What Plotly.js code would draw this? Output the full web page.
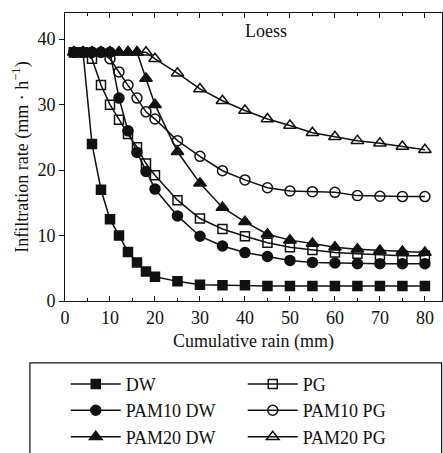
<!DOCTYPE html>
<html>
<head>
<meta charset="utf-8">
<script src="https://cdn.plot.ly/plotly-3.0.1.min.js"></script>
<style>html,body{margin:0;padding:0;background:#fff;}#chart{width:443px;height:453px;}</style>
</head>
<body>
<div id="chart"></div>
<script>
const rain = [2,4,6,8,10,12,14,16,18,20,25,30,35,40,45,50,55,60,65,70,75,80];
const dw = [38,38,24,17,12.5,10,7.5,5.9,4.5,3.7,3.0,2.5,2.4,2.4,2.3,2.3,2.3,2.3,2.3,2.3,2.3,2.3];
const pg = [38,38,37,33,30,27.7,25.5,23.5,21,19.2,15.4,12.6,11,9.9,8.9,8.2,7.8,7.4,7.2,7.0,6.9,6.9];
const pam10dw = [38,38,38,38,38,31,26,22.7,19.8,17.1,13,9.9,8.4,7.4,6.8,6.2,5.9,5.8,5.7,5.7,5.7,5.7];
const pam10pg = [38,38,38,38,37,35,33,31,28.9,27.8,24.5,22.1,19.9,18.5,17.3,16.8,16.7,16.6,16.1,16.0,15.95,15.95];
const pam20dw = [38,38,38,38,38,38,38,38,34,30,22.8,18,14.3,12.1,10.2,9.3,8.8,8.2,7.9,7.7,7.55,7.4];
const pam20pg = [38,38,38,38,38,38,38,38,38,37,34.8,32.4,30.6,29.1,27.8,26.8,25.7,25.1,24.5,24.1,23.6,23.1];
const names = ['DW','PG','PAM10 DW','PAM10 PG','PAM20 DW','PAM20 PG'];
const series = [dw, pg, pam10dw, pam10pg, pam20dw, pam20pg];
const symbols = ['square','square-open','circle','circle-open','triangle-up','triangle-up-open'];
const sizes = [9,9,10,10,11,11];

const traces = series.map((ys,i)=>({
  x: rain, y: ys, name: names[i], type:'scatter', mode:'lines+markers',
  line:{color:'#111', width:1.5},
  marker:{symbol:symbols[i], size:sizes[i], color:'#111', line:{color:'#111', width:1.5}}
}));

const font = {family:'"Liberation Serif", "Times New Roman", serif', size:18, color:'#111'};
const layout = {
  width:443, height:453,
  margin:{l:65, r:1, t:13, b:152, autoexpand:false},
  paper_bgcolor:'#fff', plot_bgcolor:'#fff',
  font: font,
  showlegend:true,
  legend:{orientation:'h', x:0.002, xanchor:'left', y:-0.2246, yanchor:'top',
          entrywidth:112, entrywidthmode:'pixels', itemwidth:50,
          bgcolor:'rgba(0,0,0,0)', borderwidth:0, font:font, tracegroupgap:0},
  xaxis:{range:[0,83.8], dtick:10, ticks:'inside', ticklen:5, tickwidth:1, tickcolor:'#111',
         minor:{dtick:5, ticks:'inside', ticklen:3, tickcolor:'#111'},
         showline:true, linecolor:'#111', linewidth:1, mirror:'ticks', showgrid:false, zeroline:false,
         tickfont:font, title:{text:'Cumulative rain (mm)', font:font, standoff:7}},
  yaxis:{range:[0,44], dtick:10, ticks:'outside', ticklen:5, tickwidth:1, tickcolor:'#111',
         showline:true, linecolor:'#111', linewidth:1, mirror:'ticks', showgrid:false, zeroline:false,
         tickfont:font, title:{text:'Infiltration rate (mm · h<sup>−1</sup>)', font:font, standoff:4}},
  annotations:[{x:44.6, y:41.3, xref:'x', yref:'y', text:'Loess', showarrow:false, font:font}],
  shapes:[{type:'rect', xref:'paper', yref:'paper', x0:-0.093, x1:0.999, y0:-0.215, y1:-0.6,
           line:{color:'#111', width:1.2}, fillcolor:'rgba(0,0,0,0)'}]
};
Plotly.newPlot('chart', traces, layout, {displayModeBar:false, staticPlot:true});
</script>
</body>
</html>
